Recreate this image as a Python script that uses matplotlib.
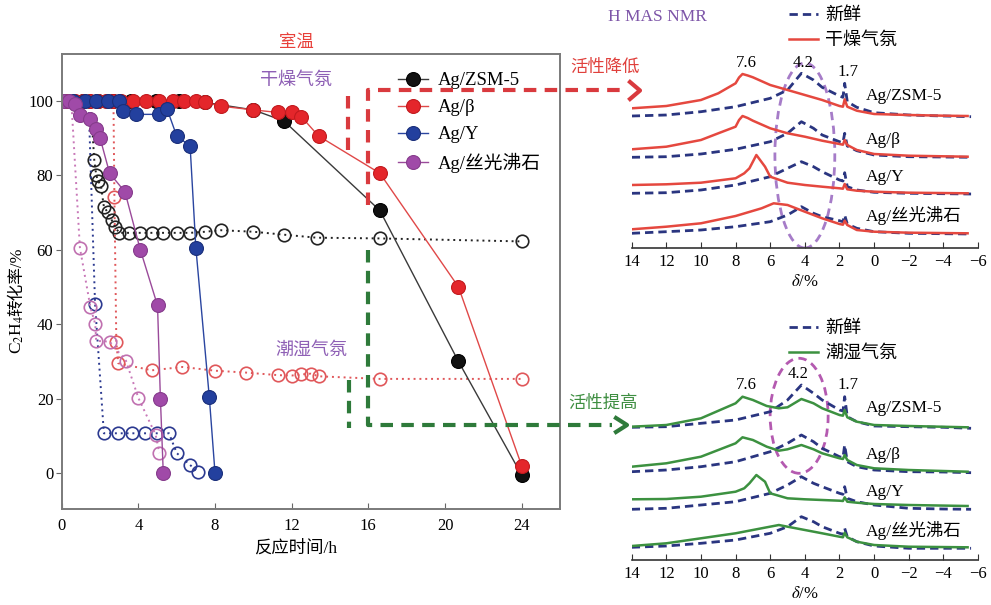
import matplotlib.pyplot as plt
from matplotlib.patches import Ellipse

plt.rcParams['font.family'] = ['Liberation Serif', 'Noto Sans CJK SC']
plt.rcParams['mathtext.fontset'] = 'stix'

W, H = 991, 605


def fx(px):
    return px / W


def fy(py):
    return 1 - py / H


# ---------------- left panel: C2H4 conversion vs time ----------------
series_names = ['Ag/ZSM-5', 'Ag/β', 'Ag/Y', 'Ag/丝光沸石']

# dry atmosphere (filled markers)
zsm_dry_t = [0.3, 1.1, 1.9, 2.7, 3.6, 4.9, 6.1, 7.5, 10.0, 11.6, 16.6, 20.7, 24.0]
zsm_dry_y = [100, 100, 100, 100, 100, 100, 100, 99.5, 97.5, 94.5, 70.5, 30, -0.5]
beta_dry_t = [0.3, 0.7, 1.1, 1.5, 1.9, 2.3, 2.7, 3.1, 3.7, 4.4, 5.1, 5.8, 6.4, 7.0,
              7.5, 8.3, 10.0, 11.3, 12.0, 12.5, 13.4, 16.6, 20.7, 24.0]
beta_dry_y = [100] * 14 + [99.5, 98.5, 97.5, 96.8, 96.8, 95.7, 90.5, 80.5, 50, 2]
y_dry_t = [0.6, 1.2, 1.8, 2.4, 3.0, 3.2, 3.9, 5.1, 5.5, 6.0, 6.7, 7.0, 7.7, 8.0]
y_dry_y = [100, 100, 100, 100, 100, 97.2, 96.3, 96.3, 97.7, 90.5, 87.8, 60.5, 20.5, 0]
mor_dry_t = [0.1, 0.4, 0.7, 0.95, 1.5, 1.8, 2.0, 2.5, 3.3, 4.1, 5.0, 5.15, 5.3]
mor_dry_y = [100, 100, 99, 96, 95, 92.5, 90, 80.5, 75.5, 60, 45, 20, 0]

# humid atmosphere (open markers)
zsm_wet_t = [1.5, 1.7, 1.8, 1.9, 2.05, 2.2, 2.4, 2.6, 2.8, 3.0, 3.5, 4.1, 4.7, 5.3,
             6.0, 6.7, 7.5, 8.3, 10.0, 11.6, 13.3, 16.6, 24.0]
zsm_wet_y = [100, 84, 80, 78.5, 77, 71.5, 70, 68, 66, 64.5, 64.5, 64.5, 64.5, 64.5,
             64.5, 64.5, 64.8, 65.2, 64.8, 64.0, 63.2, 63.0, 62.2]
beta_wet_t = [2.7, 2.75, 2.85, 2.95, 4.7, 6.3, 8.0, 9.6, 11.3, 12.0, 12.5, 13.0, 13.4, 16.6, 24.0]
beta_wet_y = [100, 74, 35.3, 29.5, 27.6, 28.5, 27.5, 27.0, 26.3, 26.2, 26.5, 26.7, 26.0, 25.3, 25.3]
y_wet_t = [1.4, 1.74, 2.2, 2.95, 3.65, 4.35, 4.95, 5.6, 6.0, 6.7, 7.1]
y_wet_y = [100, 45.5, 10.7, 10.7, 10.7, 10.7, 10.7, 10.7, 5.4, 2.2, 0.3]
mor_wet_t = [0.5, 0.95, 1.5, 1.75, 1.8, 2.5, 3.35, 4.0, 4.9, 5.1]
mor_wet_y = [100, 60.5, 44.5, 40, 35.5, 35.3, 30.2, 20.2, 10.3, 5.4]

# ---------------- right panels: 1H MAS NMR ----------------
nmr_ticks = [14, 12, 10, 8, 6, 4, 2, 0, -2, -4, -6]
fresh_d = [14, 12, 10, 8, 6, 5, 4.2, 3.5, 3, 2, 1.8, 1.7, 1.55, 1, 0, -2, -4, -5.6]

# top panel: fresh vs dry
top_fresh_zsm = [132.0, 133.0, 136.3, 141.3, 149.7, 158.0, 174.7, 168.0, 160.7, 152.0, 150.7, 164.7, 146.3, 140.7, 135.3, 133.0, 132.0, 131.3]
top_fresh_beta = [90.7, 91.3, 94.0, 98.7, 106.3, 114.7, 126.3, 119.7, 113.0, 106.3, 105.3, 114.7, 102.0, 97.3, 93.0, 91.3, 91.0, 90.7]
top_fresh_y = [54.7, 55.3, 58.0, 63.0, 71.3, 79.7, 86.3, 81.3, 76.3, 68.0, 67.0, 75.3, 61.3, 58.0, 55.7, 54.7, 54.3, 54.0]
top_fresh_mor = [14.7, 16.3, 18.0, 21.3, 26.3, 33.0, 41.3, 34.7, 31.3, 27.3, 26.3, 33.0, 24.0, 19.7, 16.3, 14.7, 14.3, 14.0]

dry_d_a = [14, 12, 10, 9, 8, 7.8, 7.6, 7.3, 7, 6, 5, 4, 3, 2, 1.8, 1.7, 1.55, 1, 0, -2, -4, -5.4]
dry_zsm = [139.7, 142.0, 148.0, 154.7, 164.7, 170.5, 174.0, 172.5, 170.7, 163.0, 158.0, 153.0, 148.0, 142.0, 141.3, 148.7, 141.3, 137.3, 134.0, 133.0, 132.3, 132.0]
dry_beta = [98.7, 101.3, 108.0, 114.7, 121.3, 128.0, 132.0, 130.0, 127.3, 119.7, 114.7, 111.3, 107.3, 104.0, 103.3, 108.0, 103.0, 98.0, 94.0, 92.3, 91.7, 91.3]
dry_d_y = [14, 12, 10, 8, 7.5, 7.2, 6.8, 6.3, 6, 5, 4, 3, 2, 1.8, 1.7, 1.55, 1, 0, -2, -5.4]
dry_y = [63.0, 63.7, 65.3, 69.7, 74.7, 79.7, 93.0, 81.3, 71.3, 65.3, 63.0, 61.3, 59.7, 59.3, 64.0, 58.7, 57.3, 56.3, 55.3, 54.7]
dry_d_mor = [14, 12, 10, 8, 6.5, 5.8, 5, 4, 3, 2, 1.8, 1.7, 1.55, 1, 0, -2, -5.4]
dry_mor = [18.7, 21.3, 24.7, 32.0, 39.7, 44.7, 43.0, 36.3, 29.7, 24.0, 23.3, 27.3, 23.0, 18.0, 16.3, 15.3, 14.7]

# bottom panel: fresh vs humid
bot_fresh_zsm = [132.7, 133.3, 136.7, 140.0, 148.3, 160.0, 175.0, 166.7, 160.0, 150.0, 149.0, 163.3, 143.3, 138.3, 134.0, 133.3, 132.7, 131.7]
bot_fresh_beta = [88.3, 90.0, 93.3, 98.3, 108.3, 116.7, 125.0, 118.3, 111.7, 103.3, 102.3, 115.0, 98.3, 93.3, 90.0, 88.3, 88.0, 87.3]
bot_fresh_y = [50.7, 51.7, 55.0, 58.3, 66.7, 75.0, 83.3, 76.7, 73.3, 66.7, 65.7, 73.3, 61.7, 58.3, 55.0, 51.7, 51.0, 50.7]
bot_fresh_mor = [12.7, 14.0, 16.7, 20.0, 26.7, 33.3, 43.3, 38.3, 33.3, 26.7, 25.7, 31.7, 23.3, 18.3, 14.0, 11.7, 11.7, 11.7]

wet_d_a = [14, 12, 10, 8, 7.6, 7, 6.2, 5.5, 5, 4.2, 3.5, 3, 2, 1.8, 1.7, 1.55, 1, 0, -2, -5.4]
wet_zsm = [133.3, 135.0, 141.7, 156.7, 163.3, 160.0, 154.0, 151.7, 152.7, 161.0, 156.7, 151.7, 145.0, 144.3, 150.0, 142.7, 138.3, 135.0, 134.0, 132.7]
wet_beta = [93.3, 96.7, 103.3, 116.7, 122.7, 120.0, 113.3, 109.3, 110.7, 115.0, 110.7, 106.7, 101.7, 101.0, 105.0, 100.0, 95.0, 91.7, 90.0, 88.3]
wet_d_y = [14, 12, 10, 8, 7.5, 7.2, 6.8, 6.3, 6, 5, 4, 3, 2, 1.8, 1.7, 1.55, 1, 0, -2, -5.4]
wet_y = [60.7, 61.0, 63.3, 68.3, 71.7, 76.7, 85.0, 78.3, 66.7, 61.7, 60.7, 60.0, 59.3, 59.0, 62.7, 58.3, 57.3, 56.0, 55.0, 54.0]
wet_d_mor = [14, 12, 10, 8, 6.5, 5.5, 5, 4, 3, 2, 1.8, 1.7, 1.55, 1, 0, -2, -5.4]
wet_mor = [14.0, 16.7, 21.7, 26.7, 31.7, 35.0, 33.3, 30.0, 26.7, 23.3, 22.7, 27.3, 22.7, 18.3, 15.0, 13.3, 12.7]

fig = plt.figure(figsize=(W / 100, H / 100), dpi=100)

# ================= left chart =================
ax = fig.add_axes([fx(61.7), fy(509.3), (560 - 61.7) / W, (509.3 - 54) / H])
ax.set_xlim(0, 26)
ax.set_ylim(-9.7, 112.5)

open_kw = dict(marker='o', ms=9, mfc='none', mew=1.2, lw=1.4, ls=(0, (1, 2)))
ax.plot(zsm_wet_t, zsm_wet_y, color='#222222', mec='#222222', **open_kw)
ax.plot(beta_wet_t, beta_wet_y, color='#E0575A', mec='#E0575A', **open_kw)
ax.plot(y_wet_t, y_wet_y, color='#2B3990', mec='#2B3990', **open_kw)
ax.plot(mor_wet_t, mor_wet_y, color='#C878B8', mec='#C070B0', **open_kw)

fill_kw = dict(marker='o', ms=10, lw=1.0, mew=0.8)
h1, = ax.plot(zsm_dry_t, zsm_dry_y, color='#3a3a3a', mfc='#111111', mec='#000000', **fill_kw)
h2, = ax.plot(beta_dry_t, beta_dry_y, color='#E04848', mfc='#E4262B', mec='#C21A1E', **fill_kw)
h3, = ax.plot(y_dry_t, y_dry_y, color='#2A45A0', mfc='#23409E', mec='#1A2F7A', **fill_kw)
h4, = ax.plot(mor_dry_t, mor_dry_y, color='#9A4A9A', mfc='#A04AA8', mec='#863C8C', **fill_kw)

ax.set_xticks([0, 4, 8, 12, 16, 20, 24])
ax.set_yticks([0, 20, 40, 60, 80, 100])
ax.tick_params(axis='x', direction='in', length=4, labelsize=12, pad=6, color='#666666')
ax.tick_params(axis='y', direction='out', length=4, labelsize=12, pad=2, color='#666666')
for s in ax.spines.values():
    s.set_color('#7a7a7a')
    s.set_linewidth(1.4)

ax.legend([h1, h2, h3, h4], series_names, loc='upper left', bbox_to_anchor=(0.675, 0.96),
          frameon=False, fontsize=13.5, numpoints=1, handlelength=1.6, handletextpad=0.5,
          labelspacing=0.52, borderpad=0, borderaxespad=0)

fig.text(fx(296), fy(43), '室温', color='#E8403A', fontsize=12.5, ha='center', va='center')
fig.text(fx(296), fy(80), '干燥气氛', color='#8E5FB5', fontsize=13, ha='center', va='center')
fig.text(fx(311), fy(350), '潮湿气氛', color='#8E5FB5', fontsize=13, ha='center', va='center')
fig.text(fx(296), fy(548), '反应时间/h', fontsize=12.5, ha='center', va='center')
fig.text(fx(17), fy(354), r'C$_2$H$_4$', fontsize=12.5, rotation=90, ha='center', va='bottom')
fig.text(fx(17), fy(316), '转化率/%', fontsize=12, rotation=90, ha='center', va='bottom')

# ================= NMR panels =================
x0, x1 = 631.7, 978


def nmr_axes(top_px, bottom_px):
    a = fig.add_axes([fx(x0), fy(bottom_px), (x1 - x0) / W, (bottom_px - top_px) / H])
    a.set_xlim(14, -6)
    a.set_ylim(0, bottom_px - top_px)
    for k in ['left', 'right', 'top']:
        a.spines[k].set_visible(False)
    a.spines['bottom'].set_color('#333333')
    a.spines['bottom'].set_linewidth(1.2)
    a.set_yticks([])
    a.set_xticks(nmr_ticks)
    a.set_xticklabels([f'{v}'.replace('-', '\u2212') for v in nmr_ticks])
    a.tick_params(axis='x', direction='in', length=4, labelsize=12, pad=4, color='#333333')
    a.set_xlabel(r'$\delta$/%', fontsize=12, labelpad=3)
    a.patch.set_alpha(0)
    return a


fresh_kw = dict(color='#2A3580', lw=2.0, ls=(0, (3, 1.8)))
labels_x = 0.45

# ---- top: dry
ax_t = nmr_axes(0, 248)
ax_t.add_patch(Ellipse((4.0, 92.5), width=3.46, height=185, fill=False,
                       ec='#A67CC8', lw=2, ls=(0, (3, 2))))
for ys in [top_fresh_zsm, top_fresh_beta, top_fresh_y, top_fresh_mor]:
    hf, = ax_t.plot(fresh_d, ys, **fresh_kw)
dry_kw = dict(color='#E5483F', lw=1.8)
ax_t.plot(dry_d_a, dry_zsm, **dry_kw)
ax_t.plot(dry_d_a, dry_beta, **dry_kw)
ax_t.plot(dry_d_y, dry_y, **dry_kw)
hd, = ax_t.plot(dry_d_mor, dry_mor, **dry_kw)
ax_t.legend([hf, hd], ['新鲜', '干燥气氛'], loc='upper left', bbox_to_anchor=(0.455, 0.97),
            frameon=False, fontsize=13, handlelength=1.6, handletextpad=0.4,
            labelspacing=0.42, borderpad=0, borderaxespad=0)
for lab, hy in zip(series_names, [152, 108, 71, 33]):
    ax_t.text(labels_x, hy, lab, fontsize=12.5, ha='left', va='center')
ax_t.text(7.4, 185, '7.6', fontsize=12, ha='center', va='center')
ax_t.text(4.1, 185, '4.2', fontsize=12, ha='center', va='center')
ax_t.text(1.5, 176, '1.7', fontsize=12, ha='center', va='center')

# ---- bottom: humid
ax_b = nmr_axes(305, 560)
ax_b.add_patch(Ellipse((4.33, 144.2), width=3.35, height=115, fill=False,
                       ec='#B45AB0', lw=2, ls=(0, (3, 2))))
for ys in [bot_fresh_zsm, bot_fresh_beta, bot_fresh_y, bot_fresh_mor]:
    hf2, = ax_b.plot(fresh_d, ys, **fresh_kw)
wet_kw = dict(color='#3C9140', lw=1.8)
ax_b.plot(wet_d_a, wet_zsm, **wet_kw)
ax_b.plot(wet_d_a, wet_beta, **wet_kw)
ax_b.plot(wet_d_y, wet_y, **wet_kw)
hw, = ax_b.plot(wet_d_mor, wet_mor, **wet_kw)
ax_b.legend([hf2, hw], ['新鲜', '潮湿气氛'], loc='upper left', bbox_to_anchor=(0.455, 0.94),
            frameon=False, fontsize=13, handlelength=1.6, handletextpad=0.4,
            labelspacing=0.42, borderpad=0, borderaxespad=0)
for lab, hy in zip(series_names, [152, 105, 68, 30]):
    ax_b.text(labels_x, hy, lab, fontsize=12.5, ha='left', va='center')
ax_b.text(7.4, 175, '7.6', fontsize=12, ha='center', va='center')
ax_b.text(4.4, 186, '4.2', fontsize=12, ha='center', va='center')
ax_b.text(1.5, 175, '1.7', fontsize=12, ha='center', va='center')

fig.text(fx(608), fy(17), 'H MAS NMR', color='#7D55A8', fontsize=12.5, ha='left', va='center')
fig.text(fx(605), fy(68), '活性降低', color='#E0403C', fontsize=12.5, ha='center', va='center')
fig.text(fx(603), fy(404), '活性提高', color='#3E8E41', fontsize=12.5, ha='center', va='center')

# ================= dashed guide arrows (pixel overlay) =================
ov = fig.add_axes([0, 0, 1, 1], zorder=5)
ov.set_xlim(0, W)
ov.set_ylim(H, 0)
ov.axis('off')
red, green = '#D93A3E', '#2E7A3A'
dash = dict(lw=3, ls=(0, (3, 2)), solid_capstyle='butt')
ov.plot([348, 348], [96, 150], color=red, **dash)
ov.plot([368, 368, 622], [205, 90, 90], color=red, **dash)
ov.plot([630, 640, 630], [82, 90.5, 99], color=red, lw=3)
ov.plot([349, 349], [380, 428], color=green, **dash)
ov.plot([368, 368, 612], [250, 425, 425], color=green, **dash)
ov.plot([616, 627, 616], [418, 425, 432], color=green, lw=3)

fig.savefig('out.png', dpi=100)
